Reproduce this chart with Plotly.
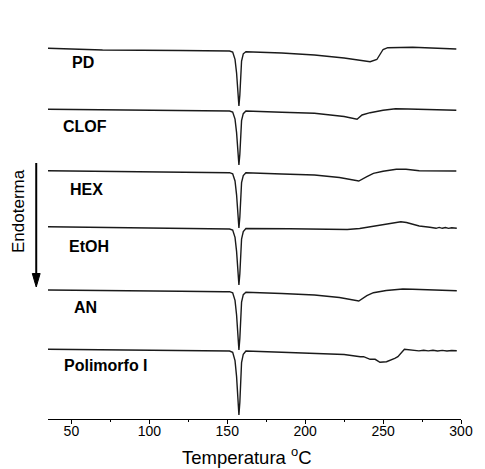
import plotly.graph_objects as go

# DSC curves (temperature in degC, heat-flow in arbitrary units, reversed axis)
pd_T = [35, 70, 120, 148, 151.5, 153.5, 155.0, 156.0, 156.9, 157.5, 158.1, 158.7, 159.2, 160.3, 162,
        185, 206, 225, 236, 241.7, 246, 250, 253, 260, 269, 285, 297]
pd_y = [48.3, 50, 50.5, 51, 51.0, 52.1, 59.3, 73, 95, 106, 95, 73, 61, 53.8, 51.7,
        53, 55, 58, 60.5, 61.7, 59.5, 49.5, 47.7, 47.3, 47.3, 48.2, 49]

clof_T = [35, 70, 120, 148, 151.5, 153.5, 155.0, 156.0, 156.9, 157.5, 158.1, 158.7, 159.2, 160.3, 162,
          185, 206, 225, 233.3, 236.5, 241.7, 250, 258, 266, 280, 297]
clof_y = [109.3, 110, 110.5, 111, 111, 112.1, 119.1, 132.6, 154.2, 165, 154.2, 132.6, 120.7, 113.7, 111,
          112.2, 113.3, 116.5, 119.3, 115, 112.7, 110.3, 108.7, 109, 109.7, 110.3]

hex_T = [35, 70, 120, 148, 151.5, 153.5, 155.0, 156.0, 156.9, 157.5, 158.1, 158.7, 159.2, 160.3, 162,
         185, 206, 222, 234.4, 239.6, 243.8, 250, 258.5, 264.7, 273.2, 297]
hex_y = [170.7, 171.5, 172.2, 172.7, 172.7, 173.8, 181, 194.8, 217, 228, 217, 194.8, 182.7, 175.5, 172.7,
         174, 175, 177.5, 181, 176.7, 173.3, 171.3, 169.3, 169.3, 170.7, 171]

etoh_T = [35, 70, 120, 148, 151.5, 153.5, 155.0, 156.0, 156.9, 157.5, 158.1, 158.7, 159.2, 160.3, 162,
          190, 227, 235, 245.7, 255, 261.4, 265, 273.2, 280, 282, 284, 286, 288, 290, 292, 294, 297.3]
etoh_y = [226.7, 227.5, 228.5, 229, 229, 230.1, 237.4, 251.4, 273.8, 285, 273.8, 251.4, 239, 231.6, 228.5,
          228.8, 229.5, 228.5, 226, 223.5, 221.7, 222.5, 226, 227.3, 227.6, 228.3, 227.4, 228.3, 227.5, 228.4, 227.7, 228.3]

an_T = [35, 70, 120, 148, 151.5, 153.5, 155.0, 156.0, 156.9, 157.5, 158.1, 158.7, 159.2, 160.3, 162,
        185, 206, 222, 234.4, 239.6, 243.8, 252, 262.7, 269, 285, 297.3]
an_y = [290, 290.8, 291.3, 291.7, 291.7, 292.9, 300.4, 315, 338.3, 350, 338.3, 315, 302.2, 294.6, 292.3,
        293.5, 295, 297.5, 301, 295.7, 292.7, 290.5, 289, 289.3, 290, 290.7]

poli_T = [35, 70, 120, 148, 151.5, 153.5, 155.0, 156.0, 156.9, 157.5, 158.1, 158.7, 159.2, 160.3, 162,
          185, 206, 225, 235.4, 237.5, 241.7, 244.9, 248, 252.2, 257.5, 259.5, 263.7, 266.9,
          270, 273, 276, 279, 282, 285, 288, 291, 294, 297.3]
poli_y = [349.3, 350, 350.5, 351, 351, 352.3, 360.6, 376.6, 402.2, 415, 402.2, 376.6, 362.5, 354.2, 351,
          352.3, 353.3, 354.5, 356.7, 356.7, 359.3, 359.3, 362.3, 361.7, 358.3, 356.7, 349.3, 350,
          350.2, 350.9, 350.2, 350.9, 350.3, 351, 350.4, 351, 350.5, 350.7]

labels = ["PD", "CLOF", "HEX", "EtOH", "AN", "Polimorfo I"]
label_T = [48.8, 43.2, 47.6, 47.0, 50.7, 43.8]
label_y = [62.5, 126, 189, 246.5, 307, 365]

curves = [(pd_T, pd_y), (clof_T, clof_y), (hex_T, hex_y), (etoh_T, etoh_y), (an_T, an_y), (poli_T, poli_y)]

fig = go.Figure()
for (T, y), name in zip(curves, labels):
    fig.add_trace(go.Scatter(x=T, y=y, mode="lines", name=name,
                             line=dict(color="#1a1a1a", width=1.4), showlegend=False))

FONT = "Liberation Sans, Arial, sans-serif"
for name, tx, ty in zip(labels, label_T, label_y):
    fig.add_annotation(x=tx, y=ty, xref="x", yref="y", text="<b>%s</b>" % name,
                       showarrow=False, xanchor="left", yanchor="middle",
                       font=dict(family=FONT, size=16, color="black"))

# axis title
fig.add_annotation(x=0.483, y=-0.095, xref="paper", yref="paper",
                   text="Temperatura <sup>o</sup>C", showarrow=False,
                   xanchor="center", yanchor="middle",
                   font=dict(family=FONT, size=18.5, color="black"))
# Endoterma text
fig.add_annotation(x=-0.070, y=0.535, xref="paper", yref="paper",
                   text="Endoterma", textangle=-90, showarrow=False,
                   xanchor="center", yanchor="middle",
                   font=dict(family=FONT, size=17, color="black"))

# arrow drawn as shapes (paper coordinates)
fig.add_shape(type="line", xref="paper", yref="paper",
              x0=-0.0285, x1=-0.0285, y0=0.6581, y1=0.3700,
              line=dict(color="black", width=2))
fig.add_shape(type="path", xref="paper", yref="paper",
              path="M -0.0380 0.3740 L -0.0190 0.3740 L -0.0285 0.3393 Z",
              fillcolor="black", line=dict(color="black", width=1))

fig.update_layout(
    width=485, height=469,
    margin=dict(l=48, r=16, t=30, b=50),
    paper_bgcolor="white", plot_bgcolor="white",
    font=dict(family=FONT, size=14, color="black"),
    xaxis=dict(range=[35, 300], showline=True, linecolor="black", linewidth=1,
               ticks="outside", ticklen=4, tickwidth=1, tickcolor="black",
               tick0=50, dtick=50, showgrid=False, zeroline=False,
               ticklabelstandoff=-5,
               tickfont=dict(family=FONT, size=14, color="black"),
               minor=dict(ticks="outside", ticklen=2, dtick=25, tick0=25, tickcolor="black", showgrid=False)),
    yaxis=dict(range=[419, 30], visible=False, showgrid=False, zeroline=False),
)

fig.write_html("out.html")
